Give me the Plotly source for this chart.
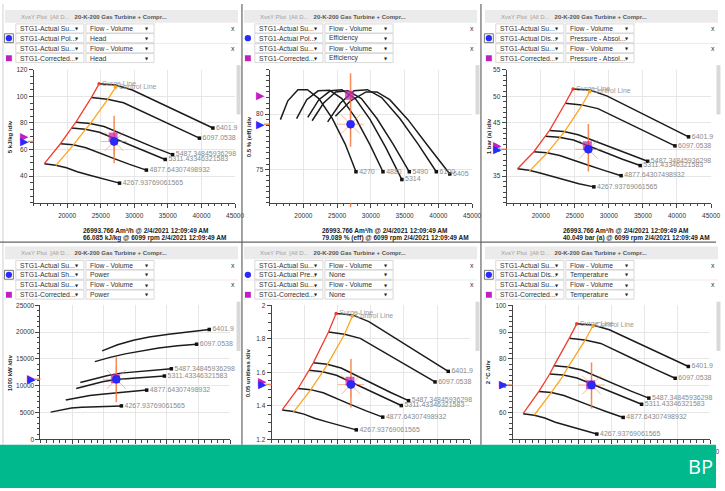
import plotly.graph_objects as go

W, H = 725, 491
FONT = "Liberation Sans"

# ---------------- data ----------------
SPEED_LABELS = ["4267.93769061565", "4877.64307498932", "5311.43346321583",
                "5487.34845936298", "6097.0538", "6401.9"]
EFF_LABELS = ["4270", "4880", "5314", "5490", "6100", "6405"]
X_TICKS = [20000, 25000, 30000, 35000, 40000, 45000]

FLOW_4268 = [16600, 18300, 19900, 21500, 23500, 25600, 27800]
FLOW_4878 = [19000, 20900, 22800, 24700, 26900, 29300, 31800]
FLOW_5311 = [20650, 22700, 24800, 26900, 29400, 32000, 34600]
FLOW_5487 = [21300, 23400, 25500, 27700, 30300, 33000, 35700]
FLOW_6097 = [23600, 26000, 28400, 30800, 33700, 36700, 39700]
FLOW_6402 = [24750, 27200, 29700, 32200, 35300, 38500, 41700]
FLOWS = [FLOW_4268, FLOW_4878, FLOW_5311, FLOW_5487, FLOW_6097, FLOW_6402]

HEAD = [[49.4, 48.2, 46.3, 43.3, 40.5, 37.6, 34.8],
        [64.4, 63.6, 61.4, 57.5, 53.4, 48.9, 44.6],
        [76.2, 75.3, 73.0, 68.7, 63.4, 57.9, 52.6],
        [80.6, 79.6, 77.3, 72.5, 67.0, 61.5, 56.2],
        [99.1, 97.8, 95.2, 89.6, 82.6, 75.3, 68.6],
        [109.4, 108.6, 104.8, 98.8, 91.2, 83.5, 76.2]]
PRESSURE = [[36.4, 36.1, 35.6, 35.0, 34.3, 33.6, 33.0],
            [39.6, 39.4, 38.9, 38.0, 37.1, 36.1, 35.1],
            [42.5, 42.3, 41.8, 40.8, 39.5, 38.2, 37.0],
            [43.6, 43.4, 42.8, 41.7, 40.4, 39.1, 37.8],
            [48.7, 48.4, 47.7, 46.2, 44.4, 42.5, 40.7],
            [51.4, 51.2, 50.1, 48.5, 46.5, 44.4, 42.4]]
POWER = [[5090, 5500, 5840, 6000, 6120, 6200, 6250],
         [7350, 7830, 8180, 8430, 8650, 8920, 9190],
         [9500, 10170, 10750, 11170, 11400, 11600, 11820],
         [10600, 11250, 11880, 12360, 12620, 12880, 13170],
         [14500, 15300, 15950, 16500, 17060, 17450, 17750],
         [16500, 17650, 18500, 19080, 19600, 20100, 20500]]
RATIO = [[1.376, 1.366, 1.351, 1.326, 1.303, 1.280, 1.257],
         [1.504, 1.497, 1.478, 1.444, 1.409, 1.370, 1.333],
         [1.612, 1.604, 1.583, 1.545, 1.498, 1.449, 1.402],
         [1.657, 1.648, 1.626, 1.582, 1.531, 1.480, 1.431],
         [1.841, 1.828, 1.803, 1.748, 1.680, 1.609, 1.543],
         [1.951, 1.943, 1.903, 1.841, 1.762, 1.682, 1.606]]
TEMP = [[59.6, 59.0, 58.0, 56.4, 55.0, 53.5, 52.0],
        [67.9, 67.5, 66.4, 64.5, 62.5, 60.3, 58.2],
        [74.4, 74.0, 72.9, 70.8, 68.3, 65.6, 63.1],
        [77.5, 77.0, 75.9, 73.5, 70.8, 68.0, 65.4],
        [87.7, 87.1, 85.8, 83.1, 79.6, 76.1, 72.8],
        [93.1, 92.7, 90.9, 88.0, 84.4, 80.7, 77.2]]

EFF_FLOWS = [[16600, 17700, 19200, 20600, 22300, 24300, 26200, 27800],
             [19000, 20500, 22200, 23900, 25700, 27800, 29900, 31800],
             [20650, 22300, 24000, 25700, 27700, 29900, 32200, 34600],
             [21300, 23000, 24800, 26600, 28600, 30900, 33300, 35700],
             [23600, 25500, 27500, 29500, 31600, 34300, 37000, 39700],
             [24750, 27000, 29300, 30900, 32800, 35500, 38500, 41700]]
EFFICIENCY = [[79.5, 81.2, 82.2, 82.2, 81.4, 79.6, 77.3, 74.8],
              [79.6, 81.3, 82.1, 82.15, 81.4, 79.6, 77.2, 74.8],
              [79.7, 81.3, 82.1, 82.2, 81.4, 79.5, 77.0, 74.1],
              [79.4, 81.0, 82.0, 82.1, 81.4, 79.6, 77.3, 74.8],
              [79.3, 81.0, 82.1, 82.2, 81.5, 79.6, 77.3, 74.8],
              [79.8, 81.2, 82.0, 82.0, 81.3, 79.5, 77.1, 74.6]]

CTRL_FLOW = [18300, 20900, 22700, 23400, 26000, 27200]
CTRL_HEAD = [48.0, 63.3, 75.0, 79.2, 97.3, 106.8]
CTRL_PRESSURE = [35.9, 39.3, 42.1, 43.2, 48.2, 50.9]
CTRL_RATIO = [1.363, 1.496, 1.602, 1.645, 1.826, 1.935]
CTRL_TEMP = [59.1, 67.5, 73.8, 76.9, 86.9, 92.4]

OP_FLOW = 26993.766
OP_VALUES = [66.085, 79.089, 40.049, 11200, 1.527, 70.3]
CORR_FLOW = 26850
CORR_VALUES = [69.5, 81.7, 40.7, 11300, 1.547, 70.4]
CROSS_LO = [49.8, 77.06, 35.9, 6924, 1.39, 61.5]
CROSS_HI = [85.5, 83.68, 44.8, 15318, 1.68, 78.7]

FOOTER_FLOW = "26993.766 Am³/h @ 2/4/2021 12:09:49 AM"
FOOTER_VALUE = ["66.085 kJ/kg @ 6099 rpm 2/4/2021 12:09:49 AM",
                "79.089 % (eff) @ 6099 rpm 2/4/2021 12:09:49 AM",
                "40.049 bar (a) @ 6099 rpm 2/4/2021 12:09:49 AM"]

# ---------------- panel layout ----------------
PANELS = [
    dict(vals=HEAD, flows=FLOWS, ctrl=CTRL_HEAD, labels=SPEED_LABELS,
         px=(34, 238), py=(66.7, 201.7), yr=(20, 120), yt=[40, 60, 80, 100, 120],
         minor=5, title="5 kJ/kg /div", tx=10, ux=0, oy=0,
         row2=("STG1-Actual Pol...", "Head"), row4=("STG1-Corrected...", "Head"), sel=True),
    dict(vals=EFFICIENCY, flows=EFF_FLOWS, ctrl=None, labels=EFF_LABELS,
         px=(273, 478), py=(66.7, 201.7), yr=(72, 84), yt=[75, 80],
         minor=0.5, title="0.5 % (eff) /div", tx=252, ux=242, oy=0,
         row2=("STG1-Actual Pol...", "Efficiency"), row4=("STG1-Corrected...", "Efficiency"), sel=False),
    dict(vals=PRESSURE, flows=FLOWS, ctrl=CTRL_PRESSURE, labels=SPEED_LABELS,
         px=(513, 720), py=(66.7, 201.7), yr=(30, 55), yt=[35, 40, 45, 50, 55],
         minor=1, title="1 bar (a) /div", tx=495, ux=486, oy=0,
         row2=("STG1-Actual Dis...", "Pressure - Absol..."), row4=("STG1-Corrected...", "Pressure - Absol..."), sel=True),
    dict(vals=POWER, flows=FLOWS, ctrl=None, labels=SPEED_LABELS,
         px=(41, 233), py=(305.7, 441.7), yr=(0, 25000), yt=[0, 5000, 10000, 15000, 20000, 25000],
         minor=1000, title="1000 kW /div", tx=10, ux=0, oy=240,
         row2=("STG1-Actual Sh...", "Power"), row4=("STG1-Corrected...", "Power"), sel=True),
    dict(vals=RATIO, flows=FLOWS, ctrl=CTRL_RATIO, labels=SPEED_LABELS,
         px=(275, 476), py=(305.7, 441.7), yr=(1.2, 2.0), yt=[1.2, 1.4, 1.6, 1.8, 2.0],
         minor=0.05, title="0.05 unitless /div", tx=252, ux=242, oy=240,
         row2=("STG1-Actual Pre...", "None"), row4=("STG1-Corrected...", "None"), sel=False),
    dict(vals=TEMP, flows=FLOWS, ctrl=CTRL_TEMP, labels=SPEED_LABELS,
         px=(519, 719), py=(305.7, 441.7), yr=(50, 100), yt=[60, 70, 80, 90, 100],
         minor=2, title="2 °C /div", tx=495, ux=486, oy=240,
         row2=("STG1-Actual Dis...", "Temperature"), row4=("STG1-Corrected...", "Temperature"), sel=True),
]

XR = (15000, 45000)
ORANGE = "rgba(245,120,60,0.85)"
fig = go.Figure()
shapes, annotations = [], []


def P(x, y):
    return x / W, 1 - y / H


def rect(x0, y0, x1, y1, fill, line=None, lw=0, layer="below"):
    a0, b1 = P(x0, y0)
    a1, b0 = P(x1, y1)
    shapes.append(dict(type="rect", xref="paper", yref="paper", x0=a0, x1=a1, y0=b0, y1=b1,
                       fillcolor=fill, line=dict(color=line or fill, width=lw), layer=layer))


def seg(x0, y0, x1, y1, color, lw=1, layer="above"):
    a0, b0 = P(x0, y0)
    a1, b1 = P(x1, y1)
    shapes.append(dict(type="line", xref="paper", yref="paper", x0=a0, x1=a1, y0=b0, y1=b1,
                       line=dict(color=color, width=lw), layer=layer))


def txt(x, y, s, size=6.8, color="#222", xanchor="left", angle=0, family=FONT):
    a, b = P(x, y)
    annotations.append(dict(x=a, y=b, xref="paper", yref="paper", text=s, showarrow=False,
                            xanchor=xanchor, yanchor="middle", textangle=angle,
                            font=dict(size=size, color=color, family=family)))


layout = {}
for i, p in enumerate(PANELS, start=1):
    sfx = "" if i == 1 else str(i)
    xa, ya = "x" + sfx, "y" + sfx
    k = i - 1
    layout["xaxis" + sfx] = dict(
        domain=[p["px"][0] / W, p["px"][1] / W], anchor=ya, range=list(XR),
        tickmode="array", tickvals=X_TICKS, ticktext=[str(v) for v in X_TICKS],
        ticks="outside", ticklen=4, tickcolor="#444",
        showline=True, linecolor="#444", linewidth=1, showgrid=True, gridcolor="#e6e6e6",
        zeroline=False, ticklabelstandoff=2,
        tickfont=dict(size=6.5, color="#333", family=FONT),
        minor=dict(tickmode="linear", tick0=15000, dtick=1000, ticks="outside", ticklen=2.5,
                   tickcolor="#444", showgrid=False),
        fixedrange=True)
    layout["yaxis" + sfx] = dict(
        domain=[1 - p["py"][1] / H, 1 - p["py"][0] / H], anchor=xa, range=list(p["yr"]),
        tickmode="array", tickvals=p["yt"], ticktext=[f"{v:g}" for v in p["yt"]],
        ticks="outside", ticklen=4, tickcolor="#444",
        showline=True, linecolor="#444", linewidth=1, showgrid=True, gridcolor="#e6e6e6",
        zeroline=False, tickfont=dict(size=6.5, color="#333", family=FONT),
        minor=dict(tickmode="linear", tick0=p["yr"][0], dtick=p["minor"], ticks="outside",
                   ticklen=2.5, tickcolor="#444", showgrid=False),
        fixedrange=True)

    common = dict(xaxis=xa, yaxis=ya, showlegend=False, hoverinfo="skip")
    flows, vals = p["flows"], p["vals"]
    for f, v in zip(flows, vals):
        fig.add_trace(go.Scatter(x=f, y=v, mode="lines",
                                 line=dict(color="#1c1c1c", width=1.5), **common))
    fig.add_trace(go.Scatter(x=[f[-1] for f in flows], y=[v[-1] for v in vals],
                             mode="markers+text", text=p["labels"], textposition="middle right",
                             marker=dict(size=3.5, color="#111", symbol="square"),
                             textfont=dict(size=7, color="#8a8a8a", family=FONT),
                             cliponaxis=False, **common))
    if p["ctrl"] is not None:
        sx = [f[0] for f in flows]
        sy = [v[0] for v in vals]
        fig.add_trace(go.Scatter(x=sx, y=sy, mode="lines", line=dict(color="#f23c2e", width=1.3), **common))
        fig.add_trace(go.Scatter(x=CTRL_FLOW, y=p["ctrl"], mode="lines",
                                 line=dict(color="#ffa51e", width=1.3), **common))
        fig.add_trace(go.Scatter(x=[sx[-1]], y=[sy[-1]], mode="markers+text", text=["Surge Line"],
                                 textposition="middle right", marker=dict(size=3.5, color="#f23c2e"),
                                 textfont=dict(size=7, color="#9a9a9a", family=FONT), cliponaxis=False, **common))
        fig.add_trace(go.Scatter(x=[CTRL_FLOW[-1]], y=[p["ctrl"][-1]], mode="markers+text",
                                 text=["Control Line"], textposition="middle right",
                                 marker=dict(size=3.5, color="#ffa51e"),
                                 textfont=dict(size=7, color="#9a9a9a", family=FONT), cliponaxis=False, **common))

    # operating point
    fig.add_trace(go.Scatter(x=[OP_FLOW, OP_FLOW], y=[CROSS_LO[k], CROSS_HI[k]], mode="lines",
                             line=dict(color=ORANGE, width=1.5), **common))
    fig.add_trace(go.Scatter(x=[OP_FLOW], y=[OP_VALUES[k]], mode="markers",
                             marker=dict(symbol="asterisk-open", size=22, color="rgba(245,120,60,0.55)",
                                         line=dict(color="rgba(245,120,60,0.55)", width=1)), **common))
    fig.add_trace(go.Scatter(x=[CORR_FLOW], y=[CORR_VALUES[k]], mode="markers",
                             marker=dict(symbol="square", size=9, color="rgba(200,40,180,0.75)"), **common))
    fig.add_trace(go.Scatter(x=[OP_FLOW], y=[OP_VALUES[k]], mode="markers",
                             marker=dict(symbol="circle", size=8, color="#2a2aff",
                                         line=dict(color="#1a1ad0", width=0.5)), **common))

    # left-edge indicators (paper x at the axis, data y)
    ax_x = p["px"][0] / W
    annotations.append(dict(x=ax_x, y=OP_VALUES[k], xref="paper", yref=ya, text="",
                            showarrow=True, ax=-7, ay=0, arrowhead=0, arrowwidth=1.5,
                            arrowcolor=ORANGE))
    for val, col in ((CORR_VALUES[k], "#c21fc2"), (OP_VALUES[k], "#2a2aff")):
        annotations.append(dict(x=ax_x - 9 / W, y=val, xref="paper", yref=ya, text="▶",
                                showarrow=False, xanchor="center", yanchor="middle",
                                font=dict(size=11, color=col, family="DejaVu Sans")))
    if i == 2:
        annotations.append(dict(x=OP_FLOW, y=1 - p["py"][1] / H, xref=xa, yref="paper", text="",
                                showarrow=True, ax=0, ay=6, arrowhead=0, arrowwidth=1.5,
                                arrowcolor=ORANGE))

    # ---- UI chrome ----
    ux, oy = p["ux"], p["oy"]
    rect(ux + 5, oy + 6, ux + 241, oy + 19, "#ebebeb")
    txt(ux + 19, oy + 12.8,
        "<span style='color:#a0a0a0'>XvsY Plot  [All D...</span>   "
        "<b><span style='color:#555'>20-K-200 Gas Turbine + Compr...</span></b>", size=6)
    seg(ux + 5, oy + 40, ux + 241, oy + 40, "#e4e4e4", 0.8, layer="below")
    rows = [("STG1-Actual Su...", "Flow - Volume"), p["row2"],
            ("STG1-Actual Su...", "Flow - Volume"), p["row4"]]
    ry = [24.8, 34.6, 44.9, 54.8]
    for (a, b), y in zip(rows, ry):
        for (x0, x1, s) in ((16, 85, a), (87, 156, b)):
            rect(ux + x0, oy + y - 4.6, ux + x1, oy + y + 4.6, "white", "#cfcfcf", 0.8)
            txt(ux + x0 + 2.5, oy + y, s, size=6.8, color="#333")
            txt(ux + x1 - 3, oy + y + 0.3, "▼", size=4, color="#222", xanchor="right", family="DejaVu Sans")
    for y in (ry[0], ry[2]):
        txt(ux + 236, oy + y, "x", size=7, color="#333", xanchor="center")
    # icons
    if p["sel"]:
        rect(ux + 4.5, oy + 30.2, ux + 13.5, oy + 39.2, "white", "#555", 0.8)
    c0, c1 = P(ux + 5.8, oy + 31.5)
    c2, c3 = P(ux + 12.2, oy + 37.9)
    shapes.append(dict(type="circle", xref="paper", yref="paper", x0=c0, x1=c2, y0=c3, y1=c1,
                       fillcolor="#2a2aff", line=dict(color="#2a2aff", width=0), layer="below"))
    rect(ux + 6, oy + 52, ux + 12, oy + 58, "#c21fc2")
    # scroll bar
    rect(ux + 239.5, oy + 62, ux + 243.5, oy + 112, "#d9d9d9")
    # y title
    txt(p["tx"], (p["py"][0] + p["py"][1]) / 2, "<b>" + p["title"] + "</b>", size=6, color="#222",
        xanchor="center", angle=-90)
    if oy == 0:
        txt(ux + 82, 229.5, "<b>" + FOOTER_FLOW + "</b>", size=6.5, color="#222")
        txt(ux + 82, 237.5, "<b>" + FOOTER_VALUE[k] + "</b>", size=6.5, color="#222")

# dividers / frame
seg(3, 0, 3, 447, "#d0d0d0", 1)
seg(245, 0, 245, 447, "#666", 1.2)
seg(487, 0, 487, 447, "#666", 1.2)
seg(0, 241.5, 725, 241.5, "#666", 1.2)
# green banner
rect(0, 447, 725, 491, "#00b98c", layer="above")
txt(695, 469, "BP", size=20, color="white", xanchor="left", family="Open Sans")

fig.update_layout(**layout)
fig.update_layout(width=W, height=H, autosize=False, margin=dict(l=0, r=0, t=0, b=0),
                  paper_bgcolor="white", plot_bgcolor="white", hovermode=False,
                  shapes=shapes, annotations=annotations, showlegend=False)
fig.write_html("out.html", config={"displayModeBar": False},
               post_script="document.body.style.margin='0';document.body.style.overflow='hidden';")
